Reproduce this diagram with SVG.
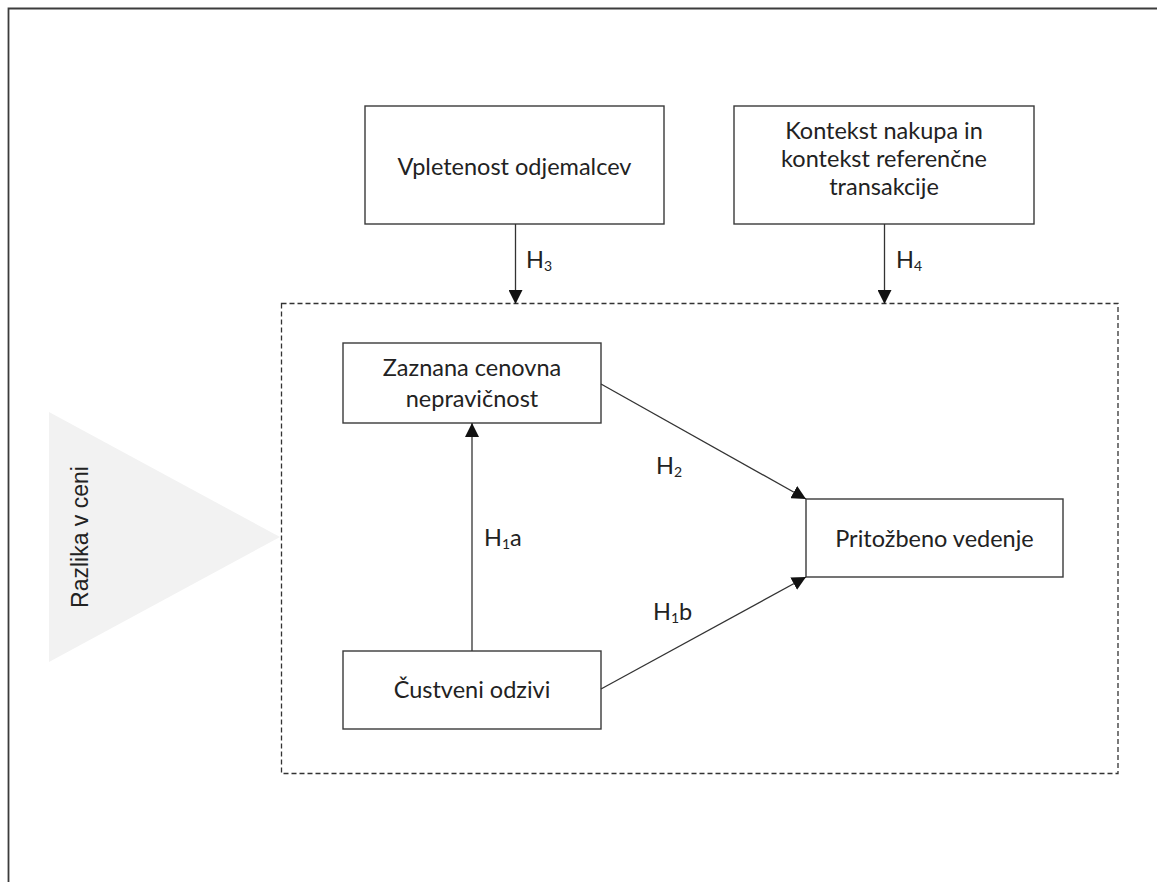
<svg xmlns="http://www.w3.org/2000/svg" width="1157" height="882" viewBox="0 0 1157 882">
  <defs>
    <style>
      .box { fill: #ffffff; stroke: #3a3a3a; stroke-width: 1.4; }
      .lbl { font-family: "Lato", "Liberation Sans", sans-serif; font-size: 23.5px; fill: #222222; text-anchor: middle; }
      .hyp { font-family: "Lato", "Liberation Sans", sans-serif; font-size: 23.5px; fill: #222222; }
      .sub { font-size: 14px; }
      .edge { fill: none; stroke: #333333; stroke-width: 1.3; marker-end: url(#head); }
    </style>
    <marker id="head" viewBox="0 0 14 14" refX="14" refY="7" markerWidth="14" markerHeight="14" markerUnits="userSpaceOnUse" orient="auto">
      <path d="M0,0 L14,7 L0,14 Z" fill="#111111"/>
    </marker>
  </defs>

  <rect width="1157" height="882" fill="#ffffff"/>

  <!-- page frame (open to the right and bottom) -->
  <path d="M8.5,882 V8.5 H1157" fill="none" stroke="#3c3c3c" stroke-width="1.8"/>

  <!-- price difference wedge -->
  <g id="razlika">
    <polygon points="49,412 49,662 280,537" fill="#f2f2f2"/>
    <text transform="translate(88,537) rotate(-90)" font-family="Liberation Sans, Arial, sans-serif" font-size="23" fill="#222222" text-anchor="middle">Razlika v ceni</text>
  </g>

  <!-- moderated area -->
  <g id="model-frame">
    <rect x="281.5" y="303.5" width="836.5" height="470" fill="none" stroke="#333333" stroke-width="1.3" stroke-dasharray="5 3"/>
  </g>

  <g id="vpletenost">
    <rect class="box" x="365" y="106" width="299" height="118"/>
    <text class="lbl" x="514.5" y="175">Vpletenost odjemalcev</text>
  </g>

  <g id="kontekst">
    <rect class="box" x="734" y="106" width="300" height="118"/>
    <text class="lbl" x="884" y="139">Kontekst nakupa in</text>
    <text class="lbl" x="884" y="167">kontekst referenčne</text>
    <text class="lbl" x="884" y="195">transakcije</text>
  </g>

  <g id="nepravicnost">
    <rect class="box" x="343" y="343" width="258" height="80"/>
    <text class="lbl" x="472" y="376">Zaznana cenovna</text>
    <text class="lbl" x="472" y="407">nepravičnost</text>
  </g>

  <g id="custveni">
    <rect class="box" x="343" y="651" width="258" height="78"/>
    <text class="lbl" x="472" y="698">Čustveni odzivi</text>
  </g>

  <g id="pritozbeno">
    <rect class="box" x="806" y="499" width="257" height="78"/>
    <text class="lbl" x="934.5" y="547">Pritožbeno vedenje</text>
  </g>

  <g id="connectors">
    <line class="edge" x1="515.5" y1="224" x2="515.5" y2="304"/>
    <line class="edge" x1="884.5" y1="224" x2="884.5" y2="304"/>
    <line class="edge" x1="472" y1="651" x2="472" y2="423"/>
    <line class="edge" x1="601" y1="384" x2="806" y2="499"/>
    <line class="edge" x1="601" y1="689" x2="806" y2="577"/>
  </g>

  <g id="hypotheses">
    <text class="hyp" x="526" y="268">H<tspan class="sub" dy="3">3</tspan></text>
    <text class="hyp" x="896" y="268">H<tspan class="sub" dy="3">4</tspan></text>
    <text class="hyp" x="484" y="546">H<tspan class="sub" dy="3">1</tspan><tspan dy="-3">a</tspan></text>
    <text class="hyp" x="656" y="474">H<tspan class="sub" dy="3">2</tspan></text>
    <text class="hyp" x="653" y="620">H<tspan class="sub" dy="3">1</tspan><tspan dy="-3">b</tspan></text>
  </g>
</svg>
